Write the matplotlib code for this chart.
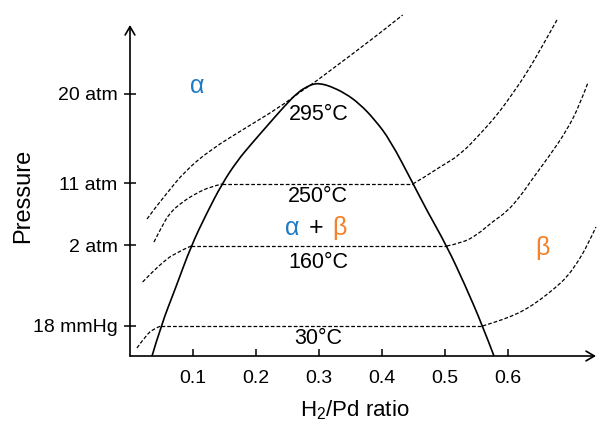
import numpy as np
import matplotlib
matplotlib.use("Agg")
import matplotlib.pyplot as plt
from matplotlib.path import Path
from matplotlib.patches import PathPatch

plt.rcParams["font.family"] = ["Liberation Sans", "DejaVu Sans"]
plt.rcParams["mathtext.fontset"] = "custom"
plt.rcParams["mathtext.rm"] = "Liberation Sans"

# two-phase dome (H2/Pd ratio, schematic pressure position)
dome_x = [0.035, 0.049, 0.073, 0.097, 0.122, 0.146, 0.170, 0.194, 0.219, 0.244,
          0.267, 0.283, 0.294, 0.305, 0.317, 0.341, 0.365, 0.389, 0.413, 0.449,
          0.471, 0.503, 0.532, 0.560, 0.578]
dome_y = [0.00, 0.30, 0.69, 1.10, 1.43, 1.72, 1.95, 2.13, 2.31, 2.49,
          2.64, 2.70, 2.725, 2.72, 2.70, 2.63, 2.52, 2.36, 2.16, 1.73,
          1.46, 1.10, 0.71, 0.30, 0.00]

# tie lines (plateau pressures)
tie_y = [0.30, 1.10, 1.72]
tie_x0 = [0.049, 0.097, 0.146]
tie_x1 = [0.560, 0.503, 0.449]

# isotherms, alpha side and beta side
iso30_ax = [0.011, 0.026, 0.037, 0.049]
iso30_ay = [0.08, 0.21, 0.27, 0.30]
iso30_bx = [0.560, 0.580, 0.603, 0.627, 0.651, 0.675, 0.694, 0.711, 0.725, 0.740]
iso30_by = [0.30, 0.34, 0.39, 0.46, 0.56, 0.68, 0.79, 0.94, 1.09, 1.29]

iso160_ax = [0.020, 0.037, 0.053, 0.069, 0.097]
iso160_ay = [0.74, 0.85, 0.94, 1.02, 1.10]
iso160_bx = [0.503, 0.527, 0.551, 0.575, 0.598, 0.619, 0.640, 0.667, 0.694, 0.714, 0.727]
iso160_by = [1.10, 1.13, 1.21, 1.34, 1.44, 1.59, 1.78, 2.01, 2.26, 2.51, 2.73]

iso250_ax = [0.038, 0.051, 0.063, 0.083, 0.106, 0.127, 0.146]
iso250_ay = [1.14, 1.30, 1.43, 1.54, 1.63, 1.69, 1.72]
iso250_bx = [0.449, 0.468, 0.492, 0.524, 0.556, 0.583, 0.606, 0.630, 0.654, 0.678]
iso250_by = [1.72, 1.79, 1.89, 2.01, 2.22, 2.41, 2.61, 2.83, 3.09, 3.36]

iso295_x = [0.027, 0.041, 0.059, 0.086, 0.127, 0.186, 0.238, 0.270, 0.294,
            0.319, 0.349, 0.376, 0.397, 0.433]
iso295_y = [1.37, 1.49, 1.63, 1.84, 2.06, 2.29, 2.49, 2.64, 2.74,
            2.86, 3.00, 3.13, 3.23, 3.41]

xticks = [0.1, 0.2, 0.3, 0.4, 0.5, 0.6]
yticks = [0.30, 1.11, 1.73, 2.62]
ylabels = ["18 mmHg", "2 atm", "11 atm", "20 atm"]

temps = ["30°C", "160°C", "250°C", "295°C"]
temp_x = [0.299, 0.299, 0.299, 0.299]
temp_y = [0.18, 0.93, 1.59, 2.41]

blue = "#1f7bc4"
orange = "#f5822a"


def smooth(ax, xs, ys, **kw):
    # quadratic curve through midpoints of the read points
    pts = np.column_stack([xs, ys])
    verts, codes = [pts[0]], [Path.MOVETO]
    n = len(pts)
    if n == 2:
        verts.append(pts[1])
        codes.append(Path.LINETO)
    for i in range(1, n - 1):
        end = pts[n - 1] if i == n - 2 else (pts[i] + pts[i + 1]) / 2
        verts += [pts[i], end]
        codes += [Path.CURVE3, Path.CURVE3]
    ax.add_patch(PathPatch(Path(verts, codes), fill=False, **kw))


fig = plt.figure(figsize=(5.97, 4.26), dpi=100)
ax = fig.add_axes([130/597, 70/426, 466/597, 331/426])
ax.set_xlim(0, 0.74)
ax.set_ylim(0, 3.31)

dash = dict(edgecolor="black", lw=0.9, linestyle=(0, (3, 1.6)), clip_on=False)
smooth(ax, dome_x, dome_y, edgecolor="black", lw=1.2, clip_on=False)
for y, a, b in zip(tie_y, tie_x0, tie_x1):
    ax.plot([a, b], [y, y], color="black", lw=0.9, linestyle=(0, (3, 1.6)))
for xs, ys in [(iso30_ax, iso30_ay), (iso30_bx, iso30_by),
               (iso160_ax, iso160_ay), (iso160_bx, iso160_by),
               (iso250_ax, iso250_ay), (iso250_bx, iso250_by),
               (iso295_x, iso295_y)]:
    smooth(ax, xs, ys, **dash)

for t, x, y in zip(temps, temp_x, temp_y):
    ax.text(x, y, t, fontsize=15.5, ha="center", va="center")

ax.text(0.257, 1.28, "\u03b1", color=blue, fontsize=18, ha="center", va="center")
ax.text(0.295, 1.28, "+", color="black", fontsize=18, ha="center", va="center")
ax.text(0.333, 1.28, "\u03b2", color=orange, fontsize=18, ha="center", va="center")
ax.text(0.106, 2.70, "\u03b1", color=blue, fontsize=18, ha="center", va="center")
ax.text(0.655, 1.08, "\u03b2", color=orange, fontsize=18, ha="center", va="center")

for s in ax.spines.values():
    s.set_visible(False)
arrow = dict(arrowstyle="->,head_length=0.6,head_width=0.35", lw=1.2,
             color="black", shrinkA=0, shrinkB=0)
ax.annotate("", xy=(1, 0), xytext=(0, 0), xycoords="axes fraction", arrowprops=arrow)
ax.annotate("", xy=(0, 1), xytext=(0, 0), xycoords="axes fraction", arrowprops=arrow)

ax.set_xticks(xticks)
ax.set_xticklabels([f"{v:.1f}" for v in xticks])
ax.set_yticks(yticks)
ax.set_yticklabels(ylabels)
ax.tick_params(axis="x", direction="in", length=5, width=1.1, pad=10, labelsize=14)
ax.tick_params(axis="y", direction="inout", length=8, width=1.1, pad=5, labelsize=14)

fig.text(355/597, 1 - 410/426, r"H$_\mathregular{2}$/Pd ratio", fontsize=16,
         ha="center", va="center")
fig.text(23/597, 1 - 196/426, "Pressure", fontsize=17, rotation=90,
         ha="center", va="center")

fig.savefig("out.png", dpi=100)
